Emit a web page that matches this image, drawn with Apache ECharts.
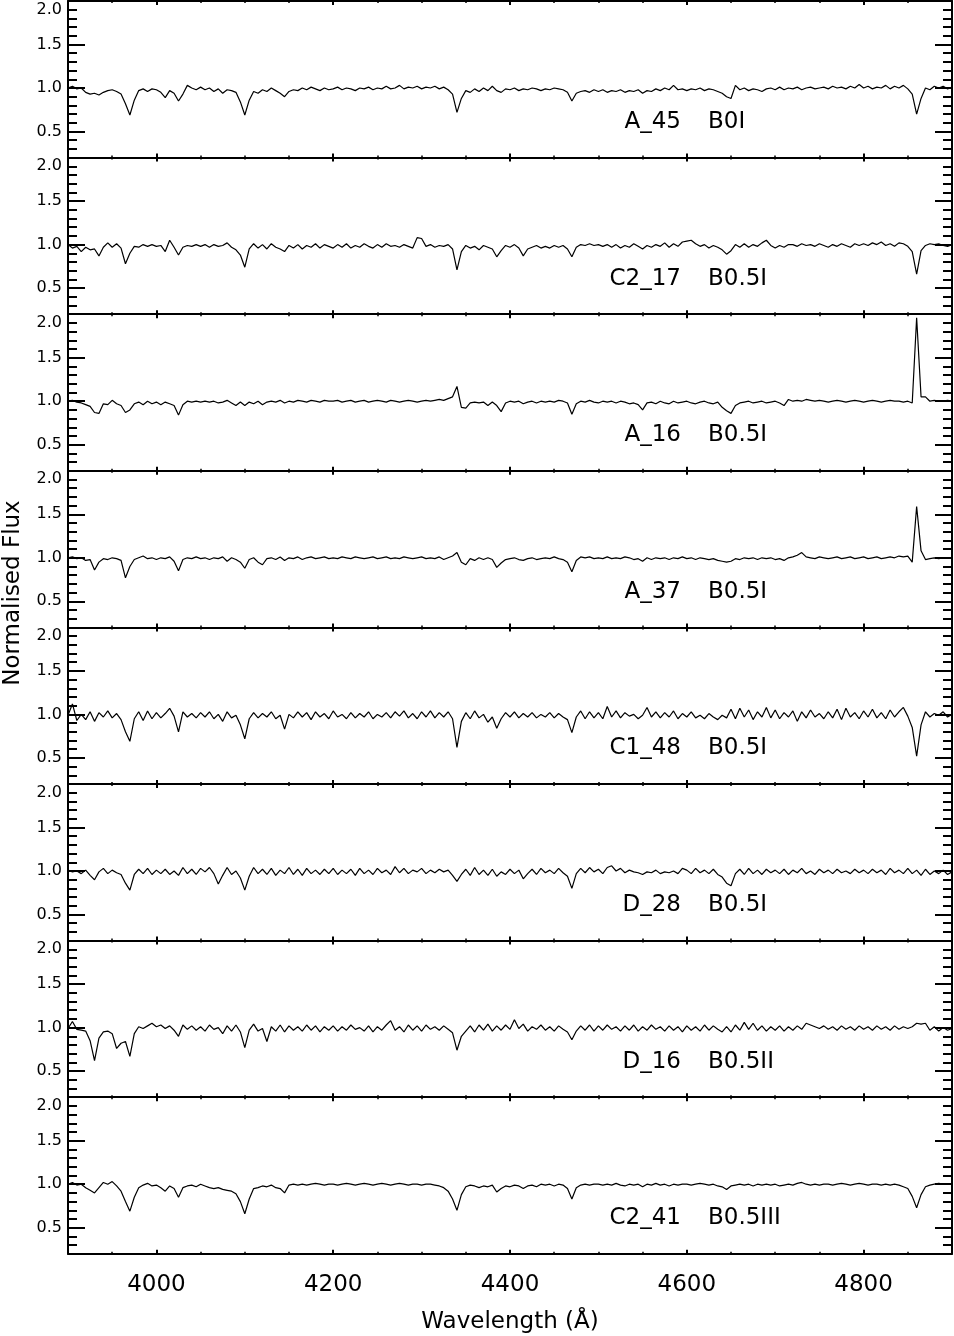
<!DOCTYPE html>
<html>
<head>
<meta charset="utf-8">
<script src="https://cdn.jsdelivr.net/npm/echarts@6/dist/echarts.min.js"></script>
<style>
  html, body { margin: 0; padding: 0; background: #fff; }
  #chart { width: 954px; height: 1336px; }
</style>
</head>
<body>
<div id="chart"></div>
<script>
// sample grid of the spectra (Angstrom)
const WAVE_START = 3900;
const WAVE_STEP = 5;

// normalised flux, one row = 100 A (3900, 3905, ... 4895), last value = 4900
const fluxA45 = [
  1.00, 1.02, 0.99, 1.00, 0.95, 0.93, 0.94, 0.92, 0.95, 0.97, 0.98, 0.96, 0.93, 0.82, 0.69, 0.86, 0.97, 0.99, 0.96, 0.99,
  0.98, 0.95, 0.89, 0.97, 0.94, 0.85, 0.93, 1.03, 1.00, 0.98, 1.01, 0.98, 1.00, 0.96, 0.99, 0.94, 0.98, 0.97, 0.95, 0.84,
  0.69, 0.86, 0.96, 0.94, 0.98, 0.96, 1.00, 0.97, 0.94, 0.90, 0.96, 0.98, 0.97, 1.00, 0.98, 1.01, 0.99, 0.97, 1.00, 0.98,
  0.99, 1.01, 0.98, 1.00, 0.99, 0.97, 1.00, 0.99, 1.01, 0.98, 1.00, 0.99, 1.02, 0.99, 1.00, 1.03, 0.99, 1.01, 1.00, 1.02,
  0.99, 1.01, 1.00, 1.02, 0.99, 1.01, 0.98, 0.93, 0.72, 0.88, 0.97, 0.95, 0.99, 0.96, 1.00, 0.97, 1.02, 0.97, 0.95, 0.99,
  0.98, 1.00, 0.97, 0.99, 0.98, 1.00, 0.99, 0.97, 0.99, 0.98, 1.00, 0.99, 0.98, 0.95, 0.85, 0.94, 0.96, 0.97, 0.95, 0.98,
  0.96, 0.98, 0.95, 0.97, 0.96, 0.98, 0.95, 0.97, 0.96, 0.98, 0.94, 0.97, 0.96, 0.99, 0.97, 1.00, 0.98, 1.03, 0.98, 0.99,
  0.97, 0.99, 0.98, 1.00, 0.97, 0.99, 0.98, 0.96, 0.94, 0.90, 0.88, 1.03, 0.98, 1.00, 0.97, 0.99, 0.98, 0.96, 0.99, 1.00,
  0.98, 1.01, 0.98, 1.00, 0.99, 1.01, 0.98, 1.00, 1.01, 0.99, 1.00, 1.01, 0.99, 1.02, 1.00, 1.01, 0.99, 1.02, 1.00, 1.04,
  1.00, 1.02, 0.99, 1.01, 1.00, 1.03, 0.99, 1.02, 1.00, 1.03, 0.99, 0.93, 0.70, 0.88, 1.00, 0.98, 1.02, 1.00, 1.02, 0.99,
  1.01
];

const fluxC2_17 = [
  1.00, 0.96, 0.98, 0.92, 0.97, 0.94, 0.95, 0.87, 0.97, 1.02, 0.97, 1.01, 0.96, 0.78, 0.90, 0.98, 0.97, 1.00, 0.98, 1.00,
  0.98, 0.99, 0.92, 1.05, 0.97, 0.88, 0.97, 0.99, 0.98, 1.00, 0.98, 1.00, 0.97, 1.00, 0.98, 0.99, 1.02, 0.97, 0.94, 0.88,
  0.74, 0.95, 1.01, 0.96, 1.00, 0.95, 1.01, 0.97, 0.95, 0.92, 0.99, 0.96, 1.00, 0.95, 0.99, 0.97, 1.01, 0.96, 1.00, 0.98,
  0.96, 1.00, 0.97, 1.01, 0.96, 0.99, 0.97, 1.01, 0.98, 0.96, 1.00, 0.97, 1.01, 0.98, 0.99, 0.97, 1.00, 0.98, 0.96, 1.08,
  1.07, 0.98, 1.00, 0.97, 0.99, 0.98, 1.00, 0.95, 0.71, 0.92, 0.99, 0.96, 0.98, 0.94, 0.99, 0.97, 0.95, 0.86, 0.93, 0.99,
  0.97, 1.00, 0.96, 0.87, 0.95, 0.97, 0.99, 0.96, 0.98, 0.96, 0.99, 0.97, 0.99, 0.95, 0.86, 0.97, 1.00, 0.99, 1.01, 0.99,
  1.00, 0.98, 1.00, 0.97, 1.00, 0.96, 0.99, 0.97, 1.01, 0.98, 0.95, 0.99, 0.97, 1.00, 0.98, 1.02, 0.97, 1.01, 0.98, 1.03,
  1.04, 1.05, 1.01, 0.98, 1.00, 0.96, 0.99, 0.97, 0.94, 0.89, 0.93, 1.00, 0.97, 1.01, 0.97, 1.00, 0.98, 1.02, 1.05, 0.99,
  0.96, 0.99, 0.97, 1.00, 1.00, 0.98, 1.01, 0.99, 1.00, 0.98, 1.01, 0.99, 0.97, 1.00, 0.98, 1.01, 0.99, 0.97, 1.01, 0.99,
  1.01, 0.99, 1.02, 1.00, 1.03, 0.99, 1.01, 0.98, 1.02, 1.01, 0.98, 0.92, 0.66, 0.93, 0.99, 1.01, 1.00, 1.01, 0.99, 0.98,
  1.00
];

const fluxA16 = [
  1.00, 1.01, 0.99, 0.98, 0.96, 0.94, 0.87, 0.86, 0.97, 0.96, 1.01, 0.97, 0.95, 0.87, 0.90, 0.97, 0.99, 0.96, 1.00, 0.97,
  0.99, 0.96, 0.99, 0.97, 0.95, 0.84, 0.96, 1.00, 0.99, 1.00, 0.99, 1.00, 0.99, 1.00, 0.98, 0.99, 1.01, 0.98, 0.95, 0.99,
  0.95, 0.99, 0.97, 1.00, 0.96, 0.99, 1.00, 0.99, 1.01, 0.98, 1.00, 0.99, 1.01, 1.00, 0.99, 1.01, 1.00, 0.99, 1.01, 1.00,
  1.00, 1.01, 0.99, 1.00, 1.01, 0.99, 1.00, 1.01, 0.99, 1.00, 1.01, 1.00, 0.99, 1.01, 1.00, 0.99, 1.00, 1.01, 1.00, 0.99,
  1.00, 1.01, 1.00, 1.01, 1.02, 1.01, 1.03, 1.05, 1.17, 0.93, 0.92, 0.98, 0.99, 0.98, 0.99, 0.95, 0.99, 0.95, 0.88, 0.98,
  1.00, 0.99, 1.00, 0.97, 0.99, 1.00, 0.98, 1.00, 0.99, 1.00, 0.99, 1.01, 1.00, 0.98, 0.85, 0.97, 1.00, 0.99, 1.01, 0.99,
  0.98, 1.00, 0.99, 1.00, 0.98, 1.00, 0.99, 0.97, 0.98, 0.96, 0.90, 0.98, 0.99, 0.97, 1.00, 0.98, 0.97, 1.00, 0.98, 0.99,
  1.00, 0.98, 0.97, 0.99, 1.00, 0.98, 0.97, 0.99, 0.93, 0.89, 0.86, 0.95, 0.98, 0.99, 1.00, 0.98, 0.99, 1.00, 0.98, 0.99,
  1.00, 0.98, 0.95, 1.02, 1.00, 1.01, 1.00, 1.02, 1.01, 1.00, 1.01, 1.00, 0.99, 1.00, 1.01, 1.00, 0.99, 1.00, 1.01, 1.00,
  0.99, 1.00, 1.01, 1.00, 0.99, 1.00, 1.01, 1.00, 1.00, 0.99, 1.00, 0.98, 1.96, 1.05, 1.05, 1.00, 1.01, 1.00, 1.00, 1.01,
  1.00
];

const fluxA37 = [
  1.00, 1.01, 0.99, 1.00, 0.97, 0.98, 0.86, 0.95, 0.99, 0.98, 1.00, 0.99, 0.97, 0.77, 0.90, 0.98, 1.00, 1.02, 0.99, 1.00,
  0.98, 1.00, 0.99, 1.01, 0.96, 0.85, 0.98, 1.00, 0.99, 1.01, 0.99, 1.00, 0.98, 1.00, 0.99, 1.01, 0.96, 1.00, 0.98, 0.95,
  0.88, 0.98, 1.00, 0.95, 0.92, 0.99, 1.00, 0.98, 1.01, 0.97, 1.00, 0.99, 1.01, 0.98, 1.00, 1.01, 0.99, 1.00, 1.01, 0.99,
  1.00, 0.99, 1.01, 1.00, 0.99, 1.01, 1.00, 0.99, 1.00, 1.01, 0.99, 1.00, 1.01, 0.99, 1.00, 0.99, 1.01, 1.00, 0.99, 1.00,
  1.01, 0.99, 1.00, 0.99, 1.01, 0.98, 1.00, 1.02, 1.06, 0.95, 0.92, 0.99, 0.97, 1.00, 0.98, 1.00, 0.98, 0.89, 0.94, 0.98,
  0.99, 1.00, 0.98, 0.97, 0.99, 1.00, 0.98, 0.99, 1.00, 0.99, 1.01, 0.99, 0.98, 0.95, 0.84, 0.97, 1.01, 1.00, 1.01, 0.99,
  1.00, 0.99, 1.01, 0.99, 1.00, 0.99, 1.01, 1.00, 0.98, 0.99, 0.96, 1.00, 0.98, 1.00, 0.99, 1.00, 0.98, 1.00, 0.99, 1.01,
  0.99, 1.00, 0.98, 1.00, 0.99, 0.98, 0.99, 0.97, 0.96, 0.95, 0.96, 0.99, 0.98, 1.00, 0.99, 1.00, 0.98, 1.00, 0.99, 1.00,
  0.98, 0.99, 0.97, 1.00, 1.01, 1.03, 1.06, 1.01, 1.00, 0.99, 1.01, 1.00, 0.99, 1.00, 1.01, 0.99, 1.00, 1.01, 0.99, 1.00,
  1.01, 0.99, 1.00, 1.01, 0.99, 1.00, 1.01, 1.00, 1.02, 1.01, 1.02, 0.95, 1.59, 1.08, 0.98, 0.99, 1.00, 0.99, 1.00, 1.00,
  1.00
];

const fluxC1_48 = [
  0.99, 1.12, 0.93, 1.00, 0.94, 1.03, 0.92, 1.02, 0.97, 1.04, 0.96, 1.01, 0.94, 0.80, 0.69, 0.95, 1.03, 0.93, 1.04, 0.95,
  1.02, 0.96, 1.01, 1.07, 0.98, 0.80, 1.03, 0.97, 1.01, 0.96, 1.02, 0.97, 1.03, 0.95, 1.00, 0.92, 1.03, 0.96, 0.99, 0.88,
  0.72, 0.95, 1.02, 0.96, 1.01, 0.97, 1.03, 0.95, 0.99, 0.83, 1.00, 0.96, 1.03, 0.97, 1.02, 0.94, 1.03, 0.97, 1.01, 0.95,
  1.04, 0.97, 1.00, 0.95, 1.02, 0.96, 1.01, 0.97, 1.03, 0.95, 1.00, 0.97, 1.02, 0.96, 1.03, 0.98, 1.04, 0.96, 1.01, 0.95,
  1.03, 0.97, 1.04, 0.96, 1.02, 0.97, 1.03, 0.95, 0.62, 0.92, 1.02, 0.95, 1.04, 0.96, 1.00, 0.91, 0.97, 0.84, 0.95, 1.02,
  0.97, 1.03, 0.96, 1.01, 0.97, 1.02, 0.96, 1.00, 0.97, 1.02, 0.96, 1.01, 0.97, 0.94, 0.79, 0.97, 1.04, 0.95, 1.03, 0.96,
  1.02, 0.95, 1.09, 0.97, 1.04, 0.96, 1.02, 0.98, 1.00, 0.95, 0.99, 1.08, 0.97, 1.03, 0.96, 1.02, 0.97, 1.04, 0.95, 1.01,
  0.97, 1.03, 0.96, 0.99, 0.95, 1.01, 0.97, 0.94, 0.99, 0.96, 1.06, 0.95, 1.07, 0.97, 1.05, 0.94, 1.03, 0.97, 1.08, 0.96,
  1.05, 0.95, 1.02, 0.97, 1.04, 0.92, 1.03, 0.96, 1.05, 0.97, 1.01, 0.95, 1.03, 0.96, 1.06, 0.94, 1.07, 0.97, 1.02, 0.95,
  1.04, 0.97, 1.06, 0.96, 1.02, 0.95, 1.05, 0.97, 1.03, 1.08, 0.98, 0.85, 0.52, 0.88, 1.03, 0.97, 1.01, 0.99, 1.03, 0.97,
  1.00
];

const fluxD28 = [
  1.01, 0.99, 1.00, 0.97, 1.01, 0.95, 0.90, 0.99, 1.03, 0.97, 1.01, 0.98, 0.96, 0.86, 0.78, 0.96, 1.02, 0.97, 1.03, 0.96,
  1.01, 0.97, 1.02, 0.96, 1.00, 0.95, 1.04, 0.97, 1.02, 0.96, 1.03, 0.99, 1.04, 0.97, 0.85, 0.95, 1.04, 0.96, 1.00, 0.92,
  0.78, 0.94, 1.04, 0.97, 1.02, 0.96, 1.03, 0.95, 1.01, 0.97, 1.04, 0.96, 1.02, 0.95, 1.03, 0.97, 1.01, 0.96, 1.02, 0.97,
  1.03, 0.96, 1.01, 0.97, 1.02, 0.95, 1.03, 0.97, 1.01, 0.96, 1.03, 0.98, 1.01, 0.96, 1.05, 0.98, 1.03, 0.97, 1.01, 0.99,
  1.03, 0.97, 1.01, 0.98, 1.02, 0.99, 1.01, 0.95, 0.88, 0.96, 1.02, 0.95, 1.04, 0.96, 1.01, 0.95, 1.02, 0.94, 0.99, 0.96,
  1.02, 0.97, 1.01, 0.91, 0.97, 1.02, 0.96, 1.03, 0.98, 1.01, 0.97, 1.03, 0.98, 0.94, 0.80, 0.97, 1.03, 0.98, 1.04, 0.99,
  1.02, 0.97, 1.04, 1.06, 1.00, 1.03, 0.98, 1.01, 0.99, 0.98, 0.96, 0.99, 0.98, 1.01, 0.97, 0.99, 0.98, 1.00, 0.97, 1.03,
  1.01, 0.97, 1.03, 0.98, 1.01, 0.97, 1.02, 0.96, 0.93, 0.86, 0.83, 0.97, 1.02, 0.96, 1.03, 0.97, 1.01, 0.96, 1.02, 0.98,
  1.01, 0.97, 1.02, 0.96, 1.01, 0.98, 1.03, 0.97, 1.00, 0.96, 1.02, 0.98, 1.01, 0.97, 1.02, 0.98, 1.00, 0.97, 1.02, 0.98,
  1.01, 0.97, 1.02, 0.98, 1.01, 0.96, 1.03, 0.98, 1.01, 0.97, 1.03, 0.97, 1.01, 0.95, 1.02, 0.96, 1.00, 0.97, 1.01, 0.96,
  0.99
];

const fluxD16 = [
  0.99, 1.07, 0.98, 0.97, 0.96, 0.85, 0.62, 0.88, 0.95, 0.96, 0.93, 0.76, 0.82, 0.84, 0.67, 0.93, 1.01, 0.99, 1.02, 1.05,
  1.01, 1.03, 0.99, 1.02, 0.97, 0.90, 1.03, 0.98, 1.02, 0.97, 1.01, 0.96, 1.03, 0.98, 1.00, 0.93, 1.02, 0.96, 1.03, 0.95,
  0.77, 0.97, 1.04, 0.96, 0.99, 0.84, 1.01, 0.96, 1.03, 0.95, 1.02, 0.97, 1.01, 0.96, 1.03, 0.97, 1.02, 0.95, 1.01, 0.97,
  1.02, 0.96, 1.01, 0.97, 1.03, 0.98, 1.00, 0.96, 1.02, 0.95, 1.01, 0.97, 1.03, 1.08, 0.97, 1.01, 0.95, 1.03, 0.97, 1.02,
  0.96, 1.03, 0.98, 1.01, 0.97, 1.02, 0.98, 0.94, 0.74, 0.90, 0.96, 1.02, 0.95, 1.03, 0.97, 1.04, 0.96, 1.02, 0.97, 1.03,
  0.98, 1.09, 0.99, 1.04, 0.96, 1.01, 0.98, 1.03, 0.97, 1.01, 0.96, 1.02, 0.98, 0.95, 0.86, 0.96, 1.02, 0.97, 1.03, 0.96,
  1.02, 0.97, 1.03, 0.98, 1.01, 0.96, 1.02, 0.97, 1.03, 0.96, 1.01, 0.97, 1.03, 0.98, 1.01, 0.96, 1.02, 0.97, 1.01, 0.95,
  1.02, 0.97, 1.01, 0.96, 1.03, 0.97, 1.02, 0.98, 0.95, 1.01, 0.95, 1.03, 0.97, 1.06, 0.98, 1.05, 0.97, 1.02, 0.96, 1.01,
  0.97, 1.02, 0.96, 1.01, 0.97, 1.02, 0.98, 1.05, 1.03, 1.01, 0.99, 1.02, 0.98, 1.01, 0.97, 1.02, 0.98, 1.01, 0.97, 1.02,
  0.98, 1.01, 0.97, 1.02, 0.98, 1.01, 0.97, 1.02, 0.98, 1.01, 0.99, 1.01, 1.05, 1.04, 1.05, 0.97, 1.01, 0.96, 1.00, 0.97,
  0.99
];

const fluxC2_41 = [
  1.00, 1.02, 0.99, 1.00, 0.96, 0.93, 0.90, 0.96, 1.02, 1.00, 1.03, 0.98, 0.92, 0.80, 0.69, 0.85, 0.96, 0.99, 1.01, 0.98,
  0.99, 0.96, 0.92, 0.98, 0.95, 0.85, 0.96, 0.98, 0.99, 0.97, 1.00, 0.98, 0.96, 0.95, 0.96, 0.94, 0.93, 0.92, 0.89, 0.80,
  0.66, 0.83, 0.95, 0.96, 0.98, 0.97, 0.99, 0.96, 0.95, 0.90, 0.99, 1.00, 0.99, 1.00, 0.99, 1.00, 1.01, 1.00, 0.99, 1.00,
  1.00, 0.99, 1.00, 1.01, 1.00, 0.99, 1.00, 1.01, 1.00, 0.99, 1.00, 1.01, 1.00, 0.99, 1.00, 1.01, 1.00, 0.99, 1.00, 1.00,
  0.99, 1.00, 1.00, 0.99, 0.98, 0.96, 0.92, 0.83, 0.70, 0.88, 0.97, 0.99, 0.98, 0.96, 0.98, 0.97, 0.99, 0.91, 0.95, 0.98,
  0.97, 0.99, 0.98, 0.95, 0.98, 0.99, 0.97, 1.00, 0.99, 1.00, 0.98, 1.00, 0.99, 0.95, 0.83, 0.96, 0.99, 1.00, 0.99, 1.00,
  1.00, 0.99, 1.00, 0.99, 1.01, 0.99, 0.98, 1.00, 0.99, 1.00, 0.97, 1.00, 0.99, 1.01, 0.99, 1.00, 0.98, 1.00, 0.99, 1.00,
  1.00, 0.99, 1.00, 1.01, 1.00, 0.99, 1.00, 0.98, 0.97, 0.94, 0.98, 0.99, 1.00, 0.99, 1.00, 0.98, 1.00, 0.99, 1.00, 0.99,
  1.00, 0.98, 0.99, 1.00, 0.99, 1.01, 1.02, 1.00, 0.99, 1.00, 0.99, 1.00, 1.00, 0.99, 1.00, 1.01, 1.00, 0.99, 1.00, 1.01,
  1.00, 0.99, 1.00, 1.00, 0.99, 1.00, 0.99, 1.00, 0.99, 0.97, 0.95, 0.86, 0.73, 0.88, 0.97, 0.99, 1.00, 1.01, 1.00, 1.00,
  1.00
];

const spectra = [fluxA45, fluxC2_17, fluxA16, fluxA37, fluxC1_48, fluxD28, fluxD16, fluxC2_41];
const starNames = ['A_45', 'C2_17', 'A_16', 'A_37', 'C1_48', 'D_28', 'D_16', 'C2_41'];
const spectralTypes = ['B0I', 'B0.5I', 'B0.5I', 'B0.5I', 'B0.5I', 'B0.5I', 'B0.5II', 'B0.5III'];

const xTickLabels = [4000, 4200, 4400, 4600, 4800];
const yTickLabels = [0.5, 1.0, 1.5, 2.0];

// layout
const FONT = 'DejaVu Sans';
const PLOT_LEFT = 68;
const PLOT_WIDTH = 884;
const PANEL_TOP = 1;
const PANEL_HEIGHT = 156.6;

const grids = [];
const xAxes = [];
const yAxes = [];
const series = [];
const graphics = [];

const axisLine = { show: true, onZero: false, lineStyle: { color: '#000', width: 2 } };
const tickStyle = { color: '#000', width: 2 };

spectra.forEach((flux, i) => {
  const top = PANEL_TOP + i * PANEL_HEIGHT;
  const isLast = i === spectra.length - 1;
  grids.push({ left: PLOT_LEFT, top: top, width: PLOT_WIDTH, height: PANEL_HEIGHT });

  const xBase = { gridIndex: i, type: 'value', min: 3900, max: 4900, splitLine: { show: false } };
  ['bottom', 'top'].forEach(pos => {
    // major ticks (and the frame line)
    xAxes.push(Object.assign({}, xBase, {
      position: pos,
      axisLine: axisLine,
      axisTick: { inside: true, length: 4, customValues: xTickLabels, lineStyle: tickStyle },
      axisLabel: {
        show: isLast && pos === 'bottom',
        customValues: xTickLabels,
        formatter: v => String(v),
        margin: 20,
        color: '#000',
        fontSize: 23,
        fontFamily: FONT
      },
      name: isLast && pos === 'bottom' ? 'Wavelength (\u00C5)' : '',
      nameLocation: 'middle',
      nameGap: 57,
      nameTextStyle: { color: '#000', fontSize: 23, fontFamily: FONT }
    }));
    // minor ticks every 50 A
    xAxes.push(Object.assign({}, xBase, {
      position: pos,
      interval: 50,
      axisLine: { show: false, onZero: false },
      axisTick: { inside: true, length: 2, lineStyle: { color: '#000', width: 1.5 } },
      axisLabel: { show: false }
    }));
  });

  const yBase = { gridIndex: i, type: 'value', min: 0.2, max: 2.0, splitLine: { show: false } };
  ['left', 'right'].forEach(pos => {
    yAxes.push(Object.assign({}, yBase, {
      position: pos,
      axisLine: axisLine,
      axisTick: { inside: true, length: 17, customValues: yTickLabels, lineStyle: tickStyle },
      axisLabel: {
        show: pos === 'left',
        customValues: yTickLabels,
        margin: 6,
        color: '#000',
        fontSize: 16,
        fontFamily: FONT,
        hideOverlap: false,
        formatter: v => (v === 2 ? '{t|2.0}' : v.toFixed(1)),
        rich: { t: { padding: [17, 0, 0, 0], fontSize: 16, fontFamily: FONT, color: '#000' } }
      }
    }));
    yAxes.push(Object.assign({}, yBase, {
      position: pos,
      interval: 0.1,
      axisLine: { show: false, onZero: false },
      axisTick: { inside: true, length: 9, lineStyle: tickStyle },
      axisLabel: { show: false }
    }));
  });

  series.push({
    type: 'line',
    xAxisIndex: 4 * i,
    yAxisIndex: 4 * i,
    showSymbol: false,
    silent: true,
    lineStyle: { color: '#000', width: 1.2 },
    data: flux.map((f, k) => [WAVE_START + k * WAVE_STEP, f])
  });

  // star name and spectral type inside each panel
  const labelY = top + 121;
  graphics.push({
    type: 'text', x: 681, y: labelY,
    style: { text: starNames[i], fill: '#000', font: '23px "' + FONT + '"', align: 'right', verticalAlign: 'middle' }
  });
  graphics.push({
    type: 'text', x: 708, y: labelY,
    style: { text: spectralTypes[i], fill: '#000', font: '23px "' + FONT + '"', align: 'left', verticalAlign: 'middle' }
  });
});

graphics.push({
  type: 'text', x: 13, y: 593, rotation: Math.PI / 2,
  style: { text: 'Normalised Flux', fill: '#000', font: '23px "' + FONT + '"', align: 'center', verticalAlign: 'middle' }
});

const chart = echarts.init(document.getElementById('chart'), null, { renderer: 'canvas' });
chart.setOption({
  backgroundColor: '#fff',
  animation: false,
  grid: grids,
  xAxis: xAxes,
  yAxis: yAxes,
  series: series,
  graphic: graphics
});
</script>
</body>
</html>
